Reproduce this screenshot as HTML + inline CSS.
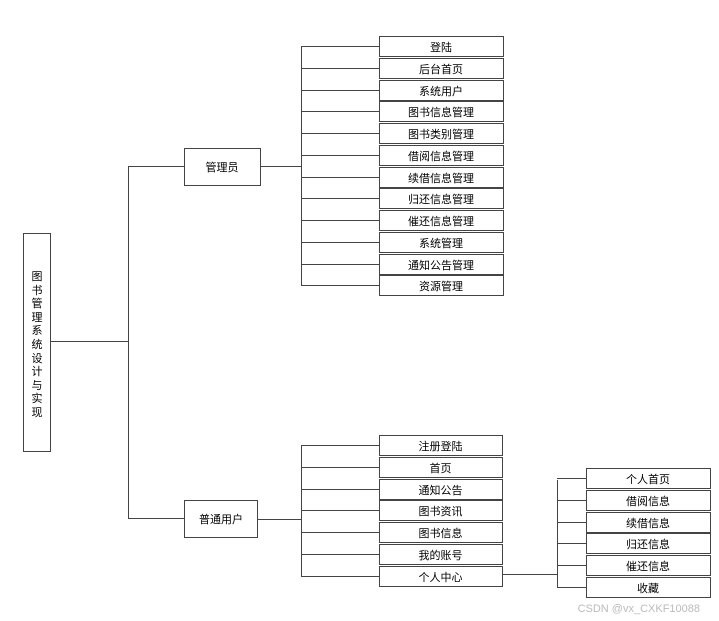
<!DOCTYPE html>
<html><head><meta charset="utf-8"><style>
html,body{margin:0;padding:0;background:#fff;}
svg{display:block;}
text{font-family:"Liberation Sans","Noto Sans CJK SC",sans-serif;font-size:11px;fill:#000;}
</style></head><body>
<svg width="719" height="621" viewBox="0 0 719 621" xmlns="http://www.w3.org/2000/svg">
<g stroke="#444" stroke-width="1" fill="none">
<!-- root -->
<rect x="23.5" y="233.5" width="27" height="218" fill="#fff"/>
<line x1="50" y1="341.5" x2="128" y2="341.5"/>
<line x1="128.5" y1="166" x2="128.5" y2="518"/>
<line x1="128" y1="166.5" x2="184" y2="166.5"/>
<line x1="128" y1="518.5" x2="184" y2="518.5"/>
<rect x="184.5" y="148.5" width="76" height="37" fill="#fff"/>
<rect x="184.5" y="500.5" width="73" height="37" fill="#fff"/>
<line x1="260" y1="166.5" x2="301" y2="166.5"/>
<line x1="257" y1="519.5" x2="301" y2="519.5"/>
<line x1="301.5" y1="46" x2="301.5" y2="285"/>
<line x1="301.5" y1="445" x2="301.5" y2="577"/>
<line x1="502" y1="574.5" x2="557" y2="574.5"/>
<line x1="557.5" y1="480" x2="557.5" y2="587"/>
</g>
<text x="37" y="280" text-anchor="middle">图</text>
<text x="37" y="294" text-anchor="middle">书</text>
<text x="37" y="307" text-anchor="middle">管</text>
<text x="37" y="321" text-anchor="middle">理</text>
<text x="37" y="334" text-anchor="middle">系</text>
<text x="37" y="348" text-anchor="middle">统</text>
<text x="37" y="362" text-anchor="middle">设</text>
<text x="37" y="375" text-anchor="middle">计</text>
<text x="37" y="389" text-anchor="middle">与</text>
<text x="37" y="402" text-anchor="middle">实</text>
<text x="37" y="416" text-anchor="middle">现</text>
<text x="222" y="171" text-anchor="middle">管理员</text>
<text x="221" y="523" text-anchor="middle">普通用户</text>
<g id="boxes"></g>
<text x="700" y="612" text-anchor="end" style="fill:#bbb;font-size:11px">CSDN @vx_CXKF10088</text>
</svg>
<script>
(function(){
var ns="http://www.w3.org/2000/svg",g=document.getElementById("boxes");
function col(x,w,y0,labels,bx){
 labels.forEach(function(t,i){
  var y=Math.round(y0+i*21.75);
  var l=document.createElementNS(ns,"line");
  l.setAttribute("x1",bx);l.setAttribute("x2",x);l.setAttribute("y1",y+10.5);l.setAttribute("y2",y+10.5);
  l.setAttribute("stroke","#444");g.appendChild(l);
  var r=document.createElementNS(ns,"rect");
  r.setAttribute("x",x+0.5);r.setAttribute("y",y+0.5);r.setAttribute("width",w);r.setAttribute("height",20);
  r.setAttribute("fill","#fff");r.setAttribute("stroke","#444");g.appendChild(r);
  var tx=document.createElementNS(ns,"text");
  tx.setAttribute("x",x+w/2);tx.setAttribute("y",y+15);tx.setAttribute("text-anchor","middle");
  tx.textContent=t;g.appendChild(tx);
 });
}
col(379,124,36,["登陆","后台首页","系统用户","图书信息管理","图书类别管理","借阅信息管理","续借信息管理","归还信息管理","催还信息管理","系统管理","通知公告管理","资源管理"],301);
col(379,123,435,["注册登陆","首页","通知公告","图书资讯","图书信息","我的账号","个人中心"],301);
col(586,124,468,["个人首页","借阅信息","续借信息","归还信息","催还信息","收藏"],557);
})();
</script>
</body></html>
